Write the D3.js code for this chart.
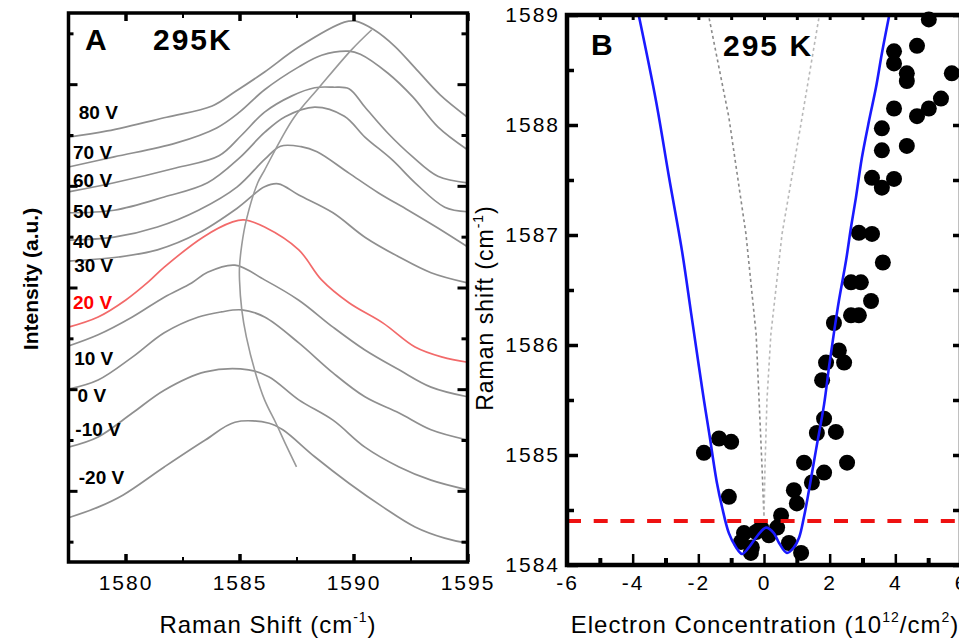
<!DOCTYPE html>
<html>
<head>
<meta charset="utf-8">
<script src="https://cdn.jsdelivr.net/npm/d3@7"></script>
<style>
  body { margin: 0; background: #fff; }
  text { font-family: "Liberation Sans", Arial, sans-serif; }
</style>
</head>
<body>
<script>

// ---------- panel A : Raman spectra at different gate voltages ----------
const voltages = [80, 70, 60, 50, 40, 30, 20, 10, 0, -10, -20];

// [Raman shift (cm-1), intensity (a.u.)]
const spec80 = [[1577.5,7.96],[1579.2,8.08],[1581.8,8.35],[1583.8,8.57],[1584.8,8.85],[1586.1,9.24],[1587.6,9.73],[1589.6,10.22],[1590.1,10.24],[1590.9,10.07],[1591.8,9.75],[1592.7,9.32],[1593.8,8.79],[1595,8.35]];
const spec70 = [[1577.5,7.37],[1579.5,7.57],[1582.2,7.84],[1584.0,8.14],[1585.0,8.45],[1586.1,8.89],[1587.6,9.34],[1588.6,9.57],[1589.8,9.65],[1590.3,9.59],[1591.5,9.22],[1592.6,8.75],[1593.7,8.16],[1595,7.71]];
const spec60 = [[1577.5,6.88],[1579.5,7.06],[1582.2,7.35],[1584.1,7.59],[1585.1,8.00],[1586.1,8.45],[1587.3,8.77],[1588.3,8.93],[1589.1,8.94],[1589.8,8.91],[1590.5,8.55],[1591.5,8.04],[1592.6,7.57],[1593.7,7.19],[1595,7.06]];
const spec50 = [[1577.5,6.47],[1579.5,6.52],[1581.7,6.78],[1583.6,7.06],[1585.0,7.55],[1586.1,8.05],[1587.0,8.36],[1588.3,8.55],[1589.6,8.37],[1590.5,7.96],[1591.7,7.51],[1592.7,7.06],[1594.0,6.58],[1595,6.49]];
const spec40 = [[1577.5,5.93],[1579.5,5.99],[1581.4,6.19],[1583.2,6.52],[1584.9,6.98],[1586.1,7.52],[1586.8,7.78],[1587.7,7.77],[1588.4,7.67],[1589.8,7.25],[1591.1,6.86],[1592.4,6.52],[1593.7,6.17],[1595,5.80]];
const spec30 = [[1577.5,5.52],[1579.7,5.60],[1581.4,5.74],[1583.2,6.07],[1584.9,6.56],[1586.1,6.98],[1586.7,7.04],[1587.6,6.82],[1589.1,6.47],[1590.5,5.99],[1592.0,5.60],[1593.4,5.29],[1595,5.09]];
const spec20 = [[1577.5,4.22],[1578.8,4.42],[1580.0,4.75],[1581.0,5.11],[1581.7,5.40],[1583.4,5.99],[1584.7,6.29],[1585.2,6.33],[1586.1,6.19],[1587.6,5.74],[1588.6,5.15],[1589.8,4.70],[1591.3,4.30],[1592.7,3.83],[1593.9,3.63],[1595,3.53]];
const spec10 = [[1577.5,3.85],[1578.8,4.07],[1580.3,4.42],[1581.7,4.81],[1582.9,5.09],[1583.6,5.30],[1584.8,5.44],[1586.1,5.15],[1587.6,4.75],[1589.1,4.22],[1590.5,3.77],[1592.0,3.38],[1593.4,3.04],[1595,2.85]];
const spec0 = [[1577.5,3.00],[1578.8,3.18],[1580.3,3.63],[1581.7,4.11],[1583.2,4.42],[1584.2,4.52],[1585.1,4.56],[1586.1,4.42],[1587.6,3.91],[1589.1,3.32],[1590.5,2.85],[1592.0,2.53],[1593.4,2.20],[1595,2.00]];
const specM10 = [[1577.5,1.86],[1578.8,2.06],[1580.3,2.53],[1581.7,2.98],[1583.5,3.34],[1585.4,3.38],[1586.3,3.24],[1587.6,2.79],[1589.1,2.39],[1590.5,1.86],[1592.0,1.47],[1593.4,1.21],[1595,1.02]];
const specM20 = [[1577.5,0.47],[1578.8,0.68],[1579.9,0.92],[1581.7,1.47],[1583.5,2.00],[1584.8,2.35],[1586.3,2.33],[1586.9,2.20],[1588.3,1.67],[1589.8,1.15],[1591.3,0.68],[1592.7,0.29],[1594.0,0.07],[1595,-0.03]];
const spectra = [spec80, spec70, spec60, spec50, spec40, spec30, spec20, spec10, spec0, specM10, specM20];

// line through the peak positions
const peakTrace = [[1590.8,10.07],[1589.9,9.67],[1588.5,8.94],[1587.4,8.35],[1586.8,7.90],[1586.1,7.31],[1585.8,7.06],[1585.3,6.33],[1585.1,5.84],[1585.0,5.40],[1585.0,5.15],[1585.1,4.56],[1585.3,4.03],[1585.7,3.32],[1586.1,2.79],[1586.6,2.33],[1587.0,1.94],[1587.5,1.47]];

// where the voltage labels sit, [shift, intensity]
const labelAt = [[1577.95,8.45],[1577.7,7.65],[1577.7,7.10],[1577.7,6.49],[1577.7,5.90],[1577.75,5.44],[1577.7,4.70],[1577.75,3.61],[1577.9,2.87],[1577.8,2.20],[1577.95,1.27]];

const xTicksA = [1580, 1585, 1590, 1595];
const xMinorA = [1582.5, 1587.5, 1592.5];
const yTicksA = [1, 3, 5, 7, 9];
const yMinorA = [0, 2, 4, 6, 8, 10];

// ---------- panel B : G peak position vs electron concentration ----------
const concentration = [5.02,4.66,3.96,3.96,4.35,4.35,5.72,3.96,4.66,5.02,5.39,3.59,3.59,4.35,3.29,3.59,3.96,
  2.89,3.29,3.62,2.65,2.95,3.26,2.65,2.89,2.13,2.28,1.89,2.44,1.77,
  1.83,1.61,2.19,1.22,1.83,2.53,1.46,0.91,1.00,0.52,0.40,-0.61,-0.24,0.15,-0.70,-0.37,0.76,1.13,
  -1.37,-1.00,-1.83,-1.07,-0.09,-0.40];
const gShift = [1588.96,1588.72,1588.67,1588.56,1588.47,1588.40,1588.47,1588.15,1588.08,1588.15,1588.24,1587.97,1587.77,1587.81,1587.52,1587.43,1587.51,
  1587.02,1587.01,1586.75,1586.57,1586.57,1586.40,1586.27,1586.27,1586.20,1585.95,1585.84,1585.84,1585.68,
  1585.33,1585.20,1585.21,1584.93,1584.84,1584.93,1584.75,1584.68,1584.56,1584.45,1584.34,1584.29,1584.30,1584.27,1584.21,1584.16,1584.20,1584.11,
  1585.15,1585.12,1585.02,1584.62,1584.34,1584.11];

// theory (blue) and adiabatic (gray dotted) curves
const theoryCurve = [[-3.81,1588.99],[-3.29,1588.22],[-2.89,1587.52],[-2.50,1586.86],[-2.22,1586.29],[-1.98,1585.80],[-1.83,1585.50],[-1.67,1585.20],[-1.43,1584.74],[-1.28,1584.53],[-1.07,1584.29],[-0.85,1584.16],[-0.67,1584.10],[-0.46,1584.16],[-0.24,1584.25],[0.06,1584.34],[0.30,1584.29],[0.46,1584.20],[0.70,1584.11],[0.91,1584.16],[1.07,1584.25],[1.22,1584.44],[1.37,1584.68],[1.58,1585.04],[1.83,1585.46],[1.98,1585.80],[2.13,1586.11],[2.28,1586.40],[2.50,1586.77],[2.65,1587.07],[2.80,1587.34],[2.98,1587.70],[3.20,1588.04],[3.41,1588.34],[3.59,1588.65],[3.81,1588.99]];
const adiabaticLeft = [[-1.67,1588.97],[-1.07,1588.07],[-0.55,1587.01],[-0.24,1586.10],[-0.15,1585.50],[-0.06,1584.89],[0,1584.44]];
const adiabaticRight = [[1.67,1588.97],[1.16,1588.07],[0.55,1587.01],[0.21,1586.10],[0.09,1585.50],[0.03,1584.89],[0,1584.44]];
const undoped = 1584.4;

const xTicksB = [-6, -4, -2, 0, 2, 4, 6];
const xMinorB = [-5, -3, -1, 1, 3, 5];
const yTicksB = [1584, 1585, 1586, 1587, 1588, 1589];
const yMinorB = [1584.5, 1585.5, 1586.5, 1587.5, 1588.5];


const width = 959;
const height = 643;

const svg = d3.select('body').append('svg')
    .attr('width', width)
    .attr('height', height);

svg.append('rect').attr('width', width).attr('height', height).attr('fill', '#fff');

// small helper: axis without its domain line, ticks styled
function tickAxis(g, axis, sw) {
    g.call(axis);
    g.select('.domain').remove();
    g.selectAll('.tick line').attr('stroke', '#000').attr('stroke-width', sw);
    g.selectAll('.tick text')
        .attr('fill', '#000')
        .style('font-family', '"Liberation Sans", Arial, sans-serif')
        .style('font-size', '21px')
        .style('letter-spacing', '2px');
}

// ================= panel A =================
const xA = d3.scaleLinear().domain([1577.5, 1595]).range([68.5, 467.5]);
const yA = d3.scaleLinear().domain([-0.4, 10.4]).range([562, 13]);

const gA = svg.append('g');

const specLine = d3.line()
    .x(d => xA(d[0]))
    .y(d => yA(d[1]))
    .curve(d3.curveCatmullRom.alpha(0.5));

gA.selectAll('path.spec')
    .data(spectra)
    .enter().append('path')
        .attr('class', 'spec')
        .attr('d', specLine)
        .attr('fill', 'none')
        .attr('stroke', (d, i) => voltages[i] === 20 ? '#f26a6a' : '#8f8f8f')
        .attr('stroke-width', 1.7);

gA.append('path')
    .attr('d', d3.line().x(d => xA(d[0])).y(d => yA(d[1])).curve(d3.curveCatmullRom)(peakTrace))
    .attr('fill', 'none')
    .attr('stroke', '#999')
    .attr('stroke-width', 1.6);

gA.selectAll('text.volt')
    .data(voltages)
    .enter().append('text')
        .attr('class', 'volt')
        .attr('x', (d, i) => xA(labelAt[i][0]))
        .attr('y', (d, i) => yA(labelAt[i][1]))
        .attr('dy', '0.35em')
        .attr('fill', d => d === 20 ? '#ff0000' : '#000')
        .style('font-size', '19px')
        .style('font-weight', 'bold')
        .text(d => d + ' V');

// axes A (ticks pointing inward on all four sides)
gA.append('g').attr('transform', `translate(0,${yA.range()[0]})`)
    .call(g => tickAxis(g, d3.axisBottom(xA).tickValues(xTicksA).tickSizeInner(-8).tickSizeOuter(0).tickPadding(13).tickFormat(d => d), 3.5));
gA.append('g').attr('transform', `translate(0,${yA.range()[0]})`)
    .call(g => tickAxis(g, d3.axisBottom(xA).tickValues(xMinorA).tickSize(-5).tickFormat(''), 2));
gA.append('g').attr('transform', `translate(0,${yA.range()[1]})`)
    .call(g => tickAxis(g, d3.axisTop(xA).tickValues(xTicksA).tickSize(-8).tickFormat(''), 3.5));
gA.append('g').attr('transform', `translate(0,${yA.range()[1]})`)
    .call(g => tickAxis(g, d3.axisTop(xA).tickValues(xMinorA).tickSize(-5).tickFormat(''), 2));
gA.append('g').attr('transform', `translate(${xA.range()[0]},0)`)
    .call(g => tickAxis(g, d3.axisLeft(yA).tickValues(yTicksA).tickSize(-9).tickFormat(''), 3));
gA.append('g').attr('transform', `translate(${xA.range()[0]},0)`)
    .call(g => tickAxis(g, d3.axisLeft(yA).tickValues(yMinorA).tickSize(-5).tickFormat(''), 3));
gA.append('g').attr('transform', `translate(${xA.range()[1]},0)`)
    .call(g => tickAxis(g, d3.axisRight(yA).tickValues(yTicksA).tickSize(-10).tickFormat(''), 3));
gA.append('g').attr('transform', `translate(${xA.range()[1]},0)`)
    .call(g => tickAxis(g, d3.axisRight(yA).tickValues(yMinorA).tickSize(-6).tickFormat(''), 3));

gA.append('rect')
    .attr('x', xA.range()[0]).attr('y', yA.range()[1])
    .attr('width', xA.range()[1] - xA.range()[0])
    .attr('height', yA.range()[0] - yA.range()[1])
    .attr('fill', 'none').attr('stroke', '#000').attr('stroke-width', 3.5);

gA.append('text').attr('x', 85).attr('y', 50)
    .style('font-size', '30px').style('font-weight', 'bold').text('A');
gA.append('text').attr('x', 153).attr('y', 50)
    .style('font-size', '30px').style('font-weight', 'bold').style('letter-spacing', '2px').text('295K');

// axis titles A
const xTitleA = gA.append('text')
    .attr('x', (xA.range()[0] + xA.range()[1]) / 2).attr('y', 633)
    .attr('text-anchor', 'middle')
    .style('font-size', '24px').style('letter-spacing', '1px');
xTitleA.append('tspan').text('Raman Shift (cm');
xTitleA.append('tspan').attr('dy', -11).style('font-size', '14px').text('-1');
xTitleA.append('tspan').attr('dy', 11).text(')');

gA.append('text')
    .attr('transform', 'translate(38,279) rotate(-90)')
    .attr('text-anchor', 'middle')
    .style('font-size', '21px').style('font-weight', 'bold')
    .text('Intensity (a.u.)');

// ================= panel B =================
const xB = d3.scaleLinear().domain([-6, 6]).range([567, 961]);
const yB = d3.scaleLinear().domain([1584, 1589]).range([565, 15]);

const gB = svg.append('g');

gB.selectAll('circle')
    .data(concentration)
    .enter().append('circle')
        .attr('cx', d => xB(d))
        .attr('cy', (d, i) => yB(gShift[i]))
        .attr('r', 8)
        .attr('fill', '#000');

const lineB = d3.line().x(d => xB(d[0])).y(d => yB(d[1]));

gB.append('path')
    .attr('d', lineB.curve(d3.curveLinear)(adiabaticLeft))
    .attr('fill', 'none').attr('stroke', '#8a8a8a')
    .attr('stroke-width', 1.6).attr('stroke-dasharray', '3,3');
gB.append('path')
    .attr('d', lineB.curve(d3.curveLinear)(adiabaticRight))
    .attr('fill', 'none').attr('stroke', '#b8b8b8')
    .attr('stroke-width', 1.6).attr('stroke-dasharray', '3,3');

gB.append('path')
    .attr('d', lineB.curve(d3.curveCatmullRom)(theoryCurve))
    .attr('fill', 'none').attr('stroke', '#1a1aff')
    .attr('stroke-width', 2.6);

gB.append('line')
    .attr('x1', xB(-6)).attr('x2', xB(6))
    .attr('y1', yB(undoped)).attr('y2', yB(undoped))
    .attr('stroke', '#ee1111').attr('stroke-width', 4)
    .attr('stroke-dasharray', '14,12.7');

// axes B
gB.append('g').attr('transform', `translate(0,${yB.range()[0]})`)
    .call(g => tickAxis(g, d3.axisBottom(xB).tickValues(xTicksB).tickSizeInner(-11).tickSizeOuter(0).tickPadding(10).tickFormat(d => d), 2.5));
gB.append('g').attr('transform', `translate(0,${yB.range()[0]})`)
    .call(g => tickAxis(g, d3.axisBottom(xB).tickValues(xMinorB).tickSize(-7).tickFormat(''), 4));
gB.append('g').attr('transform', `translate(0,${yB.range()[1]})`)
    .call(g => tickAxis(g, d3.axisTop(xB).tickValues(xTicksB.concat(xMinorB)).tickSize(-5).tickFormat(''), 3));
gB.append('g').attr('transform', `translate(${xB.range()[0]},0)`)
    .call(g => tickAxis(g, d3.axisLeft(yB).tickValues(yTicksB).tickSizeInner(-11).tickSizeOuter(0).tickPadding(7).tickFormat(d => d), 3.5));
gB.append('g').attr('transform', `translate(${xB.range()[0]},0)`)
    .call(g => tickAxis(g, d3.axisLeft(yB).tickValues(yMinorB).tickSize(-7).tickFormat(''), 3.5));
gB.append('g').attr('transform', `translate(${xB.range()[1]},0)`)
    .call(g => tickAxis(g, d3.axisRight(yB).tickValues(yTicksB.concat(yMinorB)).tickSize(-8).tickFormat(''), 3.5));

gB.append('rect')
    .attr('x', xB.range()[0]).attr('y', yB.range()[1])
    .attr('width', xB.range()[1] - xB.range()[0])
    .attr('height', yB.range()[0] - yB.range()[1])
    .attr('fill', 'none').attr('stroke', '#000').attr('stroke-width', 4.5);

gB.append('text').attr('x', 591).attr('y', 55)
    .style('font-size', '30px').style('font-weight', 'bold').text('B');
gB.append('text').attr('x', 723).attr('y', 56)
    .style('font-size', '30px').style('font-weight', 'bold').style('letter-spacing', '2px').text('295 K');

// axis titles B
const xTitleB = gB.append('text')
    .attr('x', 765).attr('y', 633)
    .attr('text-anchor', 'middle')
    .style('font-size', '24px').style('letter-spacing', '1px');
xTitleB.append('tspan').text('Electron Concentration (10');
xTitleB.append('tspan').attr('dy', -11).style('font-size', '14px').text('12');
xTitleB.append('tspan').attr('dy', 11).text('/cm');
xTitleB.append('tspan').attr('dy', -11).style('font-size', '14px').text('2');
xTitleB.append('tspan').attr('dy', 11).text(')');

const yTitleB = gB.append('text')
    .attr('transform', 'translate(493,308) rotate(-90)')
    .attr('text-anchor', 'middle')
    .style('font-size', '23px').style('letter-spacing', '1px');
yTitleB.append('tspan').text('Raman shift (cm');
yTitleB.append('tspan').attr('dy', -10).style('font-size', '14px').text('-1');
yTitleB.append('tspan').attr('dy', 10).text(')');

</script>
</body>
</html>
